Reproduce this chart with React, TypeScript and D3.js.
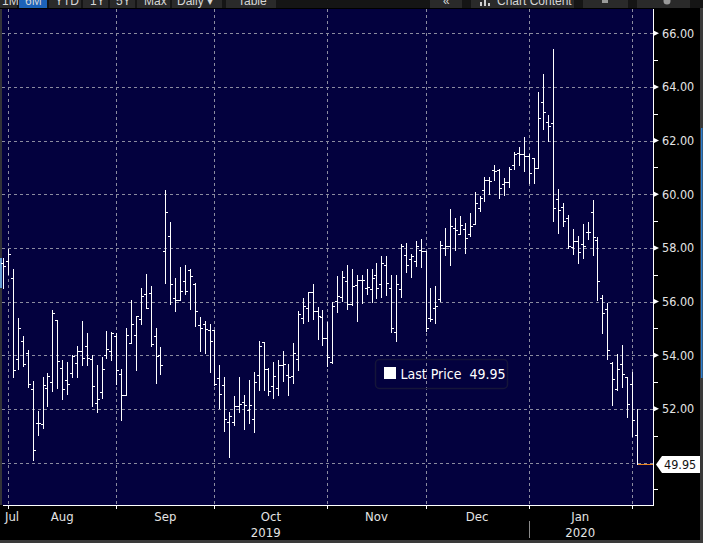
import React, { useMemo } from 'react'
import * as d3 from 'd3'

const W = 703
const H = 543

// trading calendar (weekdays, minus US market holidays in the window)
const firstDay = '2019-07-31'
const lastDay = '2020-02-04'
const holidays = ['2019-09-02', '2019-11-28', '2019-12-25', '2020-01-01', '2020-01-20']

const openPx = [
  57.45, 57.52, 56.87, 53.85, 54.53, 54.07, 52.75, 51.47, 51.43, 52.77,
  52.99, 55.30, 53.54, 53.07, 53.32, 53.70, 54.17, 54.36, 53.86, 52.20,
  52.62, 54.01, 54.14, 54.70, 53.29, 52.52, 54.45, 54.75, 55.35, 56.29,
  56.31, 54.71, 54.00, 57.90, 58.43, 56.15, 56.05, 56.76, 57.19, 56.67,
  55.14, 55.17, 54.93, 54.94, 53.16, 52.88, 51.50, 51.52, 52.09, 52.25,
  51.94, 51.61, 53.27, 54.48, 53.49, 52.87, 52.77, 53.63, 53.27, 53.22,
  53.86, 55.38, 55.75, 56.35, 55.65, 55.42, 54.63, 53.74, 56.02, 56.18,
  56.78, 55.90, 56.62, 56.80, 56.52, 56.46, 57.00, 56.64, 57.37, 56.52,
  54.88, 56.48, 57.75, 57.57, 57.51, 57.92, 57.88, 55.40, 55.77, 56.08,
  57.98, 58.06, 58.75, 58.53, 58.72, 58.50, 58.89, 59.49, 60.17, 60.54,
  60.91, 60.90, 60.38, 60.47, 61.09, 61.52, 61.50, 61.44, 61.34, 60.98,
  63.43, 62.68, 62.64, 59.84, 59.51, 59.10, 58.04, 58.26, 58.14, 58.60,
  59.35, 58.29, 56.12, 55.71, 53.71, 52.75, 53.69, 53.19, 52.92, 51.01,
]
const highPx = [
  57.61, 57.96, 57.20, 55.38, 54.72, 54.20, 53.04, 51.93, 53.20, 53.32,
  55.69, 55.30, 53.83, 53.73, 54.01, 54.35, 55.28, 54.82, 54.01, 53.64,
  53.94, 54.91, 54.88, 54.84, 53.49, 55.01, 56.06, 55.47, 56.50, 57.03,
  56.58, 55.02, 54.31, 60.16, 58.96, 56.87, 57.28, 57.37, 57.22, 56.68,
  55.42, 55.28, 55.17, 54.94, 53.64, 53.19, 51.88, 52.48, 53.19, 52.52,
  53.08, 53.37, 54.53, 54.51, 53.54, 53.76, 53.83, 54.14, 53.68, 54.45,
  55.65, 56.12, 56.37, 56.66, 55.81, 55.69, 55.25, 56.00, 56.95, 57.14,
  57.38, 57.20, 56.99, 56.99, 57.20, 57.20, 57.45, 57.69, 57.69, 56.99,
  56.99, 58.13, 58.19, 57.76, 58.25, 58.35, 57.88, 56.52, 56.58, 58.25,
  58.74, 59.45, 59.12, 59.18, 58.93, 59.30, 60.08, 59.92, 60.64, 60.64,
  61.10, 60.93, 60.59, 61.02, 61.58, 61.75, 62.14, 61.50, 61.34, 63.82,
  64.48, 62.95, 65.42, 60.18, 59.66, 59.22, 58.72, 58.44, 58.89, 58.97,
  59.78, 58.39, 56.26, 55.95, 53.75, 54.06, 54.37, 53.19, 53.38, 52.01,
]
const lowPx = [
  56.52, 57.02, 53.17, 53.48, 53.61, 52.83, 50.10, 51.01, 51.30, 52.12,
  52.67, 52.76, 52.37, 52.56, 53.20, 53.20, 53.64, 53.64, 52.09, 51.90,
  52.42, 53.89, 53.83, 52.93, 51.59, 52.52, 54.45, 53.45, 55.17, 55.75,
  54.36, 52.96, 53.30, 56.71, 55.90, 55.63, 56.06, 56.27, 55.73, 55.07,
  54.14, 54.10, 53.39, 52.89, 52.05, 51.18, 50.22, 51.38, 51.90, 51.25,
  51.49, 51.12, 52.71, 52.71, 52.52, 52.42, 52.52, 53.02, 52.52, 52.96,
  53.45, 55.19, 55.28, 55.35, 54.61, 54.38, 53.60, 53.70, 55.61, 56.02,
  55.71, 55.87, 55.28, 55.96, 56.27, 55.99, 56.15, 56.17, 56.23, 54.88,
  54.54, 56.17, 57.10, 56.91, 57.32, 57.28, 54.91, 55.28, 55.19, 56.02,
  57.75, 57.38, 57.92, 58.50, 57.82, 58.44, 58.89, 59.36, 59.75, 60.02,
  60.54, 59.87, 59.99, 60.28, 60.93, 61.09, 60.88, 60.43, 60.43, 60.96,
  62.43, 61.99, 59.01, 58.56, 58.82, 57.98, 57.79, 57.44, 57.63, 58.35,
  57.75, 56.07, 54.81, 53.87, 52.16, 52.72, 52.82, 51.70, 50.98, 49.95,
]
const closePx = [
  57.34, 57.79, 53.44, 55.01, 53.69, 52.92, 50.46, 51.47, 52.89, 53.22,
  55.58, 53.78, 52.73, 52.92, 53.98, 54.16, 53.90, 53.89, 52.84, 52.36,
  53.49, 54.24, 54.81, 53.44, 52.52, 54.75, 55.17, 55.45, 56.19, 55.77,
  54.42, 53.96, 53.63, 59.33, 56.65, 56.05, 56.39, 56.39, 56.96, 55.64,
  55.01, 54.97, 54.53, 52.93, 52.55, 51.64, 51.75, 52.11, 52.17, 52.16,
  52.15, 53.01, 54.34, 53.49, 52.65, 53.22, 53.63, 53.66, 53.20, 54.07,
  55.53, 55.85, 56.35, 55.63, 55.47, 54.63, 53.93, 55.85, 56.21, 56.90,
  55.92, 56.58, 56.80, 56.80, 56.55, 56.86, 56.52, 57.42, 56.70, 55.03,
  56.64, 58.06, 57.37, 57.69, 58.06, 57.88, 55.03, 55.34, 55.84, 58.09,
  58.06, 58.81, 58.68, 58.84, 58.37, 58.81, 59.67, 59.86, 60.54, 60.49,
  60.85, 60.25, 60.47, 60.94, 61.50, 61.50, 61.44, 60.78, 60.98, 62.83,
  63.05, 62.55, 59.47, 59.43, 59.00, 58.07, 58.26, 57.85, 58.06, 58.60,
  58.41, 56.76, 55.59, 54.18, 53.13, 53.48, 53.31, 52.17, 51.57, 49.95,
]

const priceTicks = [50, 52, 54, 56, 58, 60, 62, 64, 66]
const minorTicks = [49, 51, 53, 55, 57, 59, 61, 63, 65]
const lastPrice = 49.95
const legendLabel = 'Last Price'

const toolbarButtons = [
  { label: '1M', x0: 0, x1: 17, tx: 2 },
  { label: '6M', x0: 19, x1: 47, tx: 25, active: true },
  { label: 'YTD', x0: 49, x1: 81, tx: 55 },
  { label: '1Y', x0: 83, x1: 108, tx: 90 },
  { label: '5Y', x0: 110, x1: 135, tx: 116 },
  { label: 'Max', x0: 137, x1: 170, tx: 144 },
  { label: 'Daily \u25BE', x0: 172, x1: 222, tx: 177 },
  { label: 'Table', x0: 226, x1: 276, tx: 238 },
  { label: '\u00AB', x0: 430, x1: 462, tx: 443 },
  { label: 'Chart Content', x0: 471, x1: 574, tx: 497 },
  { label: '', x0: 583, x1: 628, tx: 601 },
  { label: '', x0: 637, x1: 690, tx: 664 },
]

const NAVY = '#03013e'
const GRID = '#8b8ba0'
const AXIS_TEXT = '#e4e4e4'
const COND = "'DejaVu Sans Condensed', 'Liberation Sans Narrow', 'DejaVu Sans', sans-serif"

const plot = { left: 2, right: 653, top: 9, bottom: 505 }

export default function App() {
  const fmt = d3.timeFormat('%Y-%m-%d')
  const parse = d3.timeParse('%Y-%m-%d')

  const days = useMemo(() => {
    const start = parse(firstDay)!
    const end = d3.timeDay.offset(parse(lastDay)!, 1)
    return d3.timeDay.range(start, end)
      .filter(d => d.getDay() !== 0 && d.getDay() !== 6 && !holidays.includes(fmt(d)))
      .map(fmt)
  }, [])

  const x = d3.scalePoint<string>().domain(days).range([3.3, 636.7])
  const y = d3.scaleLinear().domain([50, 66]).range([462.5, 33.3])

  // first trading day of each month
  const monthStarts = useMemo(() => {
    const out: { key: string, day: string }[] = []
    days.forEach(d => {
      const k = d.slice(0, 7)
      if (!out.length || out[out.length - 1].key !== k) out.push({ key: k, day: d })
    })
    return out
  }, [days])

  const monthFmt = d3.timeFormat('%b')
  const gridXs = monthStarts.slice(1).map(m => Math.round(x(m.day)!) + 0.5)
  const monthLabels = monthStarts.slice(0, -1).map((m, i) => {
    const name = monthFmt(parse(m.day)!)
    if (i === 0) return { name, cx: 5, anchor: 'start' }
    const a = x(m.day)!
    const b = x(monthStarts[i + 1].day)!
    return { name, cx: (a + b) / 2, anchor: 'middle' }
  })
  const janIdx = monthStarts.findIndex(m => m.key === '2020-01')
  const janX = Math.round(x(monthStarts[janIdx].day)!) + 0.5
  const janCenter = (x(monthStarts[janIdx].day)! + x(monthStarts[janIdx + 1].day)!) / 2
  const yearLabels = [
    { label: '2019', cx: (plot.left + janX) / 2 },
    { label: '2020', cx: janCenter },
  ]

  const lastX = Math.round(x(days[days.length - 1])!)
  const lastY = Math.round(y(lastPrice)) + 0.5

  return (
    <div style={{ position: 'fixed', left: 0, top: 0, width: W, height: H, background: '#000' }}>
      <svg width={W} height={H} style={{ display: 'block' }}>
        <rect x={0} y={0} width={W} height={H} fill="#000" />

        {/* toolbar, cut off at the top */}
        <rect x={0} y={0} width={W} height={8} fill="#151515" />
        {toolbarButtons.map(b => (
          <g key={b.x0}>
            <rect x={b.x0} y={0} width={b.x1 - b.x0} height={8} fill={b.active ? '#1d63b8' : '#2a2a2a'} />
            {b.label && (
              <text x={b.tx} y={5} fill="#d6d6d6" fontSize={12} fontFamily="'Liberation Sans', Arial, sans-serif">
                {b.label}
              </text>
            )}
          </g>
        ))}
        <rect x={480} y={2} width={2} height={4} fill="#cfcfcf" />
        <rect x={484} y={0} width={2} height={6} fill="#cfcfcf" />
        <rect x={488} y={3} width={2} height={3} fill="#cfcfcf" />
        <rect x={602} y={0} width={6} height={3} fill="#9a9a9a" />
        <circle cx={667} cy={1} r={3.5} fill="#9a9a9a" />

        {/* plot background */}
        <rect x={plot.left} y={plot.top} width={plot.right - plot.left} height={plot.bottom - plot.top} fill={NAVY} />
        <rect x={0} y={plot.top} width={2} height={plot.bottom - plot.top} fill="#333338" />
        <rect x={0} y={258} width={2} height={30} fill="#6a9fd6" />

        {/* grid */}
        {priceTicks.map(v => (
          <line key={v} x1={plot.left} x2={plot.right} y1={Math.round(y(v)) + 0.5} y2={Math.round(y(v)) + 0.5}
            stroke={GRID} strokeDasharray="3,3" strokeWidth={1} shapeRendering="crispEdges" />
        ))}
        {gridXs.map(gx => (
          <line key={gx} x1={gx} x2={gx} y1={plot.top} y2={plot.bottom}
            stroke={GRID} strokeDasharray="3,3" strokeWidth={1} shapeRendering="crispEdges" />
        ))}

        {/* legend */}
        <rect x={375.5} y={359.5} width={132} height={29} rx={4} fill="none" stroke="#15153a" strokeWidth={1.5} />
        <rect x={384} y={367} width={12} height={12} fill="#fff" />
        <text x={400.5} y={379} fill="#fff" fontSize={14} fontFamily={COND}>{legendLabel}</text>
        <text x={469.5} y={379} fill="#fff" fontSize={14} fontFamily={COND}>{lastPrice.toFixed(2)}</text>

        {/* OHLC bars */}
        <g stroke="#fff" strokeWidth={1} shapeRendering="crispEdges">
          {days.map((d, i) => {
            const px = Math.round(x(d)!)
            const yo = Math.round(y(openPx[i])) + 0.5
            const yc = Math.round(y(closePx[i])) + 0.5
            return (
              <g key={d}>
                <line x1={px + 0.5} x2={px + 0.5} y1={Math.round(y(highPx[i]))} y2={Math.round(y(lowPx[i])) + 1} />
                <line x1={px - 2} x2={px} y1={yo} y2={yo} />
                <line x1={px + 1} x2={px + 3} y1={yc} y2={yc} />
              </g>
            )
          })}
        </g>

        {/* last price line */}
        <line x1={lastX + 1} x2={plot.right} y1={lastY} y2={lastY} stroke="#e8821e" strokeWidth={1} shapeRendering="crispEdges" />

        {/* right axis */}
        <line x1={plot.right + 0.5} x2={plot.right + 0.5} y1={plot.top} y2={plot.bottom + 0.5} stroke="#fff" shapeRendering="crispEdges" />
        {minorTicks.map(v => (
          <line key={v} x1={plot.right} x2={plot.right + 5} y1={Math.round(y(v)) + 0.5} y2={Math.round(y(v)) + 0.5}
            stroke="#fff" shapeRendering="crispEdges" />
        ))}
        {priceTicks.filter(v => v > 50).map(v => (
          <g key={v}>
            <path d={`M${plot.right},${y(v) - 3}L${plot.right + 6},${y(v)}L${plot.right},${y(v) + 3}Z`} fill="#fff" />
            <text x={662} y={y(v) + 4.5} fill={AXIS_TEXT} fontSize={12.5} fontFamily={COND}>{v.toFixed(2)}</text>
          </g>
        ))}
        <path d={`M656,${lastY}L662,${lastY - 8.5}L700,${lastY - 8.5}L700,${lastY + 8.5}L662,${lastY + 8.5}Z`} fill="#fff" />
        <text x={664} y={lastY + 4.5} fill="#111" fontSize={12.5} fontFamily={COND}>{lastPrice.toFixed(2)}</text>

        {/* bottom axis */}
        <line x1={3} x2={plot.right + 1} y1={plot.bottom + 0.5} y2={plot.bottom + 0.5} stroke="#fff" shapeRendering="crispEdges" />
        {gridXs.map(gx => (
          <line key={gx} x1={gx} x2={gx} y1={plot.bottom} y2={plot.bottom + 4} stroke="#fff" shapeRendering="crispEdges" />
        ))}
        {monthLabels.map(m => (
          <text key={m.name} x={m.cx} y={521} textAnchor={m.anchor as any} fill={AXIS_TEXT} fontSize={13} fontFamily={COND}>
            {m.name}
          </text>
        ))}
        <line x1={janX} x2={janX} y1={521} y2={538} stroke="#8a8a8a" shapeRendering="crispEdges" />
        {yearLabels.map(yl => (
          <text key={yl.label} x={yl.cx} y={537} textAnchor="middle" fill={AXIS_TEXT} fontSize={13} fontFamily={COND}>
            {yl.label}
          </text>
        ))}

        {/* window frame */}
        <rect x={0} y={540} width={W} height={3} fill="#3a3a3a" />
        <rect x={700} y={8} width={3} height={535} fill="#3a3a3a" />
        <rect x={701} y={128} width={1.5} height={250} fill="#2d7fd0" />
      </svg>
    </div>
  )
}
